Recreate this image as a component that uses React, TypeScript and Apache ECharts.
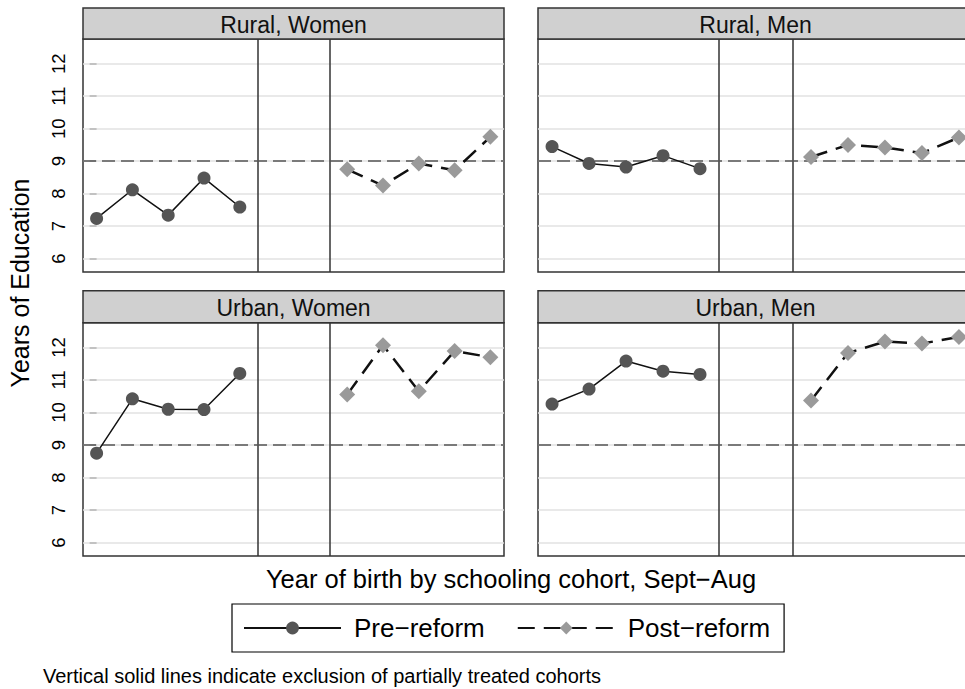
import React, { useEffect, useRef } from 'react';
import * as echarts from 'echarts';

// ---- data ----
const panelTitles = ['Rural, Women', 'Rural, Men', 'Urban, Women', 'Urban, Men'];
const preCohorts = [0, 1, 2, 3, 4];
const postCohorts = [7, 8, 9, 10, 11];
const excludedBounds = [4.5, 6.5];
const thresholdYears = 9;
const yTicks = [6, 7, 8, 9, 10, 11, 12];

const ruralWomenPre = [7.24, 8.12, 7.34, 8.48, 7.59];
const ruralWomenPost = [8.75, 8.25, 8.93, 8.72, 9.75];
const ruralMenPre = [9.45, 8.93, 8.82, 9.17, 8.77];
const ruralMenPost = [9.13, 9.5, 9.42, 9.25, 9.73];
const urbanWomenPre = [8.75, 10.42, 10.1, 10.09, 11.2];
const urbanWomenPost = [10.55, 12.07, 10.65, 11.89, 11.7];
const urbanMenPre = [10.26, 10.72, 11.58, 11.27, 11.17];
const urbanMenPost = [10.37, 11.83, 12.18, 12.12, 12.32];

const preSeries = [ruralWomenPre, ruralMenPre, urbanWomenPre, urbanMenPre];
const postSeries = [ruralWomenPost, ruralMenPost, urbanWomenPost, urbanMenPost];

const PRE = 'Pre\u2212reform';
const POST = 'Post\u2212reform';
const FONT = "'Liberation Sans', Arial, Helvetica, sans-serif";

const grids = [
  { left: 83, top: 39, width: 421, height: 233 },
  { left: 538, top: 39, width: 435, height: 233 },
  { left: 83, top: 322.7, width: 421, height: 233.3 },
  { left: 538, top: 322.7, width: 435, height: 233.3 },
];

function buildOption() {
  const xAxis = grids.map((_, i) => ({
    type: 'value',
    gridIndex: i,
    min: -0.38,
    max: 11.38,
    show: false,
  }));
  const yAxis = grids.map((_, i) => {
    const showLab = i % 2 === 0;
    return {
      type: 'value',
      gridIndex: i,
      min: 5.59,
      max: 12.76,
      axisLine: { show: false },
      splitLine: { show: false },
      axisTick: {
        show: showLab,
        length: 7,
        customValues: yTicks,
        lineStyle: { color: '#333', width: 1.5 },
      },
      axisLabel: {
        show: showLab,
        rotate: 90,
        margin: 15,
        customValues: yTicks,
        fontSize: 18.5,
        fontFamily: FONT,
        color: '#000',
      },
    };
  });

  const series: any[] = [];
  grids.forEach((_, i) => {
    const refLines: any[] = [];
    yTicks.forEach((v) =>
      refLines.push({ yAxis: v, lineStyle: { color: '#e2e2e2', width: 1.5, type: 'solid' } })
    );
    excludedBounds.forEach((v) =>
      refLines.push({ xAxis: v, lineStyle: { color: '#333', width: 1.5, type: 'solid' } })
    );
    refLines.push({ yAxis: thresholdYears, lineStyle: { color: '#555', width: 1.5, type: [13, 6] } });

    series.push({
      name: PRE,
      type: 'line',
      xAxisIndex: i,
      yAxisIndex: i,
      z: 3,
      data: preCohorts.map((x, k) => [x, preSeries[i][k]]),
      symbol: 'circle',
      symbolSize: 13,
      showAllSymbol: true,
      itemStyle: { color: '#555555' },
      lineStyle: { color: '#111', width: 1.5, type: 'solid' },
      markLine: {
        z: 1,
        silent: true,
        symbol: 'none',
        label: { show: false },
        animation: false,
        data: refLines,
      },
    });
    series.push({
      name: POST,
      type: 'line',
      xAxisIndex: i,
      yAxisIndex: i,
      z: 3,
      data: postCohorts.map((x, k) => [x, postSeries[i][k]]),
      symbol: 'diamond',
      symbolSize: 16,
      showAllSymbol: true,
      itemStyle: { color: '#9a9a9a' },
      lineStyle: { color: '#111', width: 2.5, type: [17, 9] },
    });
  });

  const graphic: any[] = [];
  grids.forEach((g, i) => {
    const hTop = i < 2 ? 8 : 290.7;
    const hH = g.top - hTop;
    graphic.push({
      type: 'rect',
      shape: { x: g.left, y: hTop, width: g.width, height: hH },
      style: { fill: '#d0d0d0', stroke: '#333', lineWidth: 1.5 },
      z: 10,
    });
    graphic.push({
      type: 'text',
      x: g.left + g.width / 2,
      y: hTop + hH / 2 + 1,
      style: {
        text: panelTitles[i],
        fontSize: 23,
        fontFamily: FONT,
        fill: '#111',
        align: 'center',
        verticalAlign: 'middle',
        textAlign: 'center',
        textVerticalAlign: 'middle',
      },
      z: 11,
    });
  });
  graphic.push({
    type: 'text',
    x: 20,
    y: 283,
    rotation: Math.PI / 2,
    style: {
      text: 'Years of Education',
      fontSize: 25,
      fontFamily: FONT,
      fill: '#000',
      align: 'center',
      verticalAlign: 'middle',
      textAlign: 'center',
      textVerticalAlign: 'middle',
    },
  });
  graphic.push({
    type: 'text',
    x: 511,
    y: 579,
    style: {
      text: 'Year of birth by schooling cohort, Sept\u2212Aug',
      fontSize: 25.5,
      fontFamily: FONT,
      fill: '#000',
      align: 'center',
      verticalAlign: 'middle',
      textAlign: 'center',
      textVerticalAlign: 'middle',
    },
  });
  graphic.push({
    type: 'text',
    x: 43,
    y: 676,
    style: {
      text: 'Vertical solid lines indicate exclusion of partially treated cohorts',
      fontSize: 20,
      fontFamily: FONT,
      fill: '#000',
      align: 'left',
      verticalAlign: 'middle',
      textAlign: 'left',
      textVerticalAlign: 'middle',
    },
  });

  return {
    animation: false,
    backgroundColor: '#fff',
    grid: grids.map((g) => ({
      ...g,
      show: true,
      borderColor: '#333',
      borderWidth: 1.5,
      backgroundColor: '#fff',
      containLabel: false,
      outerBoundsMode: 'none',
    })),
    xAxis,
    yAxis,
    legend: {
      data: [PRE, POST],
      left: 232,
      top: 604,
      orient: 'horizontal',
      itemWidth: 97,
      itemHeight: 16,
      itemGap: 32,
      padding: [11, 14, 11, 11],
      borderColor: '#000',
      borderWidth: 1.2,
      selectedMode: false,
      textStyle: { fontSize: 26, fontFamily: FONT, color: '#000', padding: [0, 0, 0, 8] },
    },
    series,
    graphic,
  };
}

export default function App() {
  const ref = useRef<HTMLDivElement>(null);
  useEffect(() => {
    if (!ref.current) return;
    const chart = echarts.init(ref.current, null, { renderer: 'svg' });
    chart.setOption(buildOption() as any);
    return () => chart.dispose();
  }, []);
  return (
    <div
      ref={ref}
      style={{ position: 'absolute', left: 0, top: 0, width: 965, height: 689, background: '#fff' }}
    />
  );
}
